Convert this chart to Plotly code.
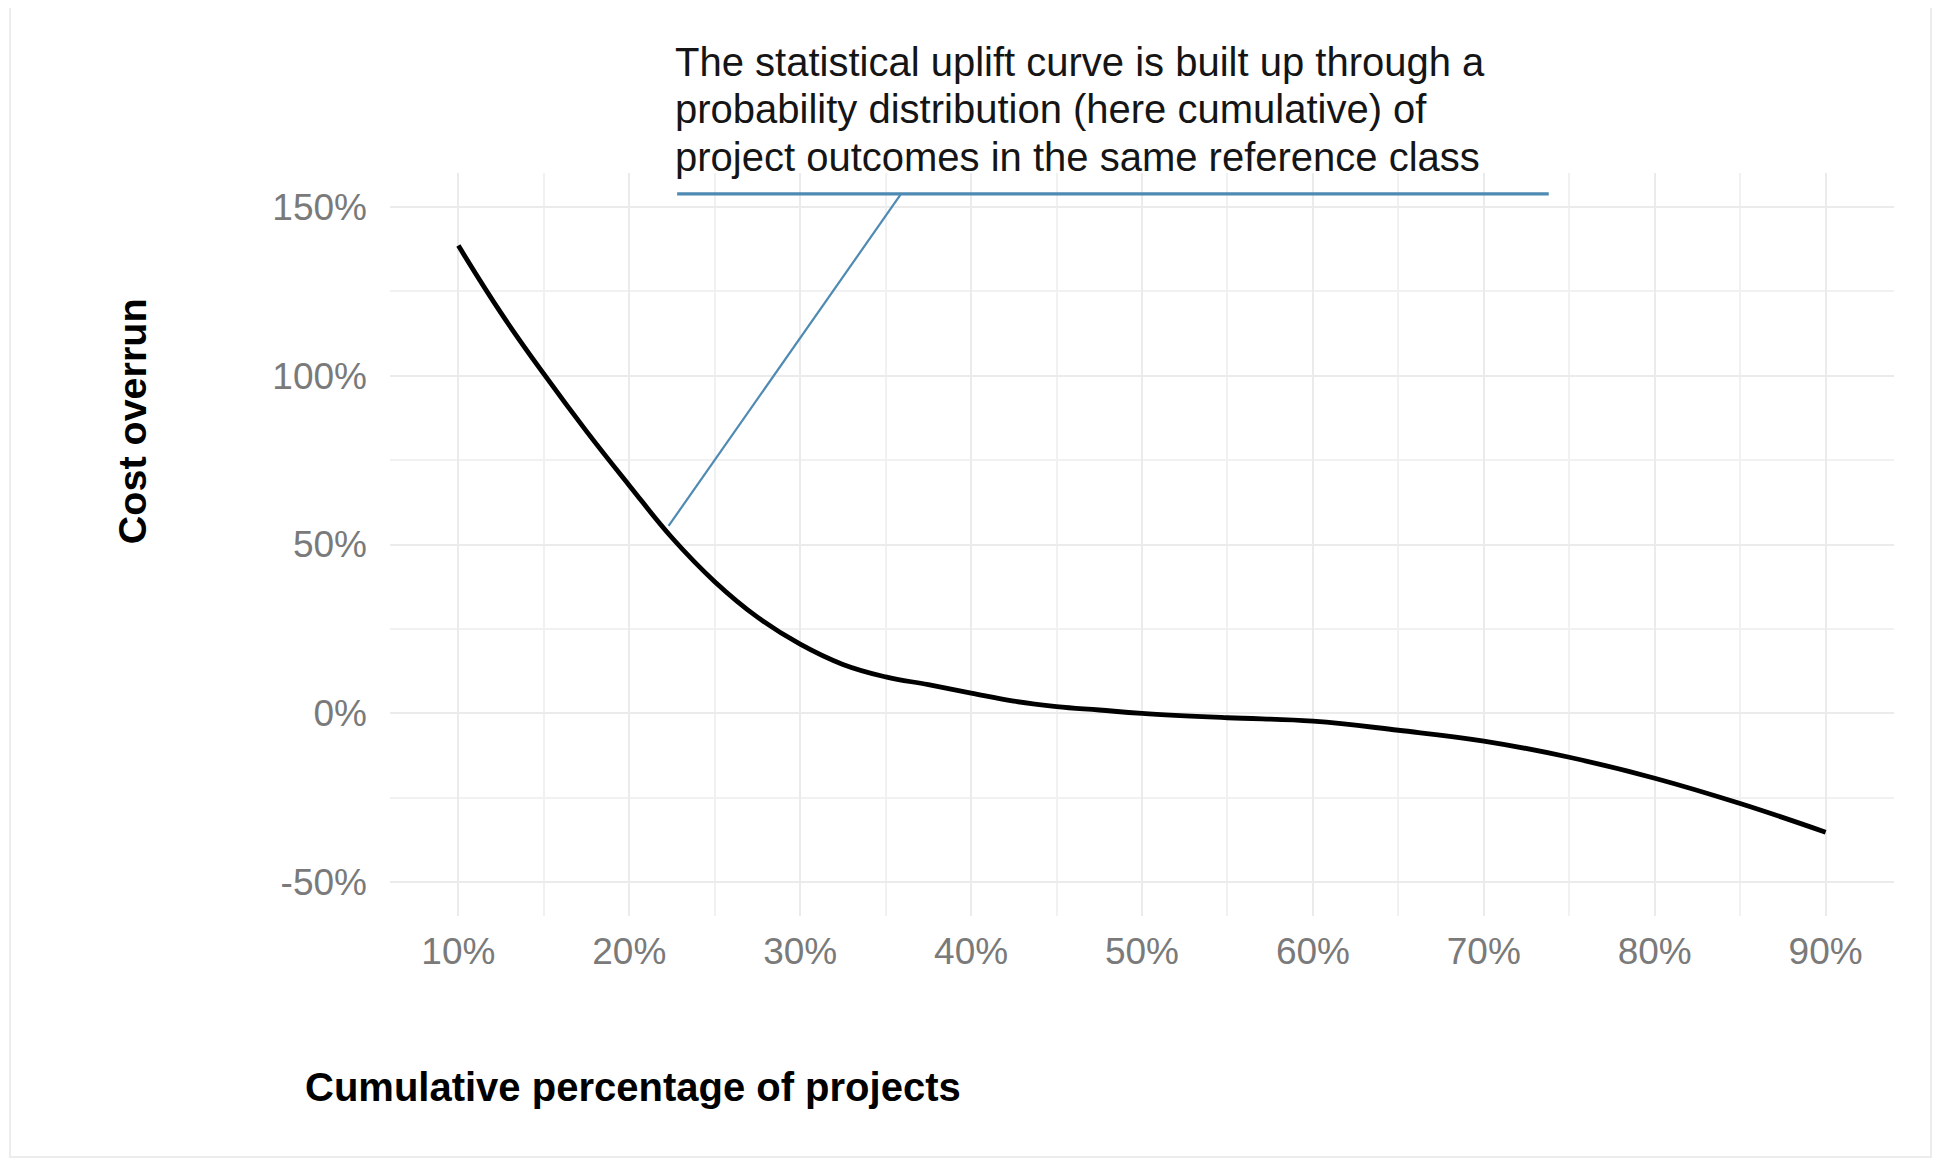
import plotly.graph_objects as go

# ---- data ----
cum_pct = [10, 12.5, 15, 17.5, 20, 22.5, 25, 27.5, 30, 32.5, 35, 37.5, 40,
           42.5, 45, 47.5, 50, 55, 60, 65, 70, 75, 80, 85, 90]
overrun = [138.5, 118.5, 100.5, 83.5, 67.5, 52, 39, 28.5, 20.5, 14.5, 10.8, 8.5, 6,
           3.6, 2, 1, 0, -1.3, -2.3, -5, -8.2, -13, -19.2, -26.7, -35.2]

x_ticks = [10, 20, 30, 40, 50, 60, 70, 80, 90]
x_tick_text = ["10%", "20%", "30%", "40%", "50%", "60%", "70%", "80%", "90%"]
y_ticks = [-50, 0, 50, 100, 150]
y_tick_text = ["-50%", "0%", "50%", "100%", "150%"]

note_lines = [
    "The statistical uplift curve is built up through a",
    "probability distribution (here cumulative) of",
    "project outcomes in the same reference class",
]

FONT = "Liberation Sans, Arial, sans-serif"
GRID = "#ebebeb"
TICK_COL = "#7a7a7a"
BLUE = "#4f8ab3"

fig = go.Figure()
fig.add_trace(go.Scatter(
    x=cum_pct, y=overrun, mode="lines",
    line=dict(color="black", width=4.8, shape="spline", smoothing=1.2),
    hoverinfo="skip", showlegend=False,
))

# annotation leader lines (data coordinates)
fig.add_shape(type="line", xref="x", yref="y", x0=22.8, x1=73.8, y0=153.8, y1=153.8,
              line=dict(color=BLUE, width=3.2))
fig.add_shape(type="line", xref="x", yref="y", x0=35.9, x1=22.3, y0=153.8, y1=55.5,
              line=dict(color=BLUE, width=2.2))

for yv, txt in zip([1.1494, 1.0861, 1.0215], note_lines):
    fig.add_annotation(x=22.58, y=yv, xref="x", yref="paper", text=txt, showarrow=False,
                       xanchor="left", yanchor="middle",
                       font=dict(family=FONT, size=40, color="#151515"))

# axis titles
fig.add_annotation(x=-0.1715, y=0.666, xref="paper", yref="paper", text="<b>Cost overrun</b>",
                   textangle=-90, showarrow=False, xanchor="center", yanchor="middle",
                   font=dict(family=FONT, size=39.5, color="black"))
fig.add_annotation(x=0.1616, y=-0.2301, xref="paper", yref="paper",
                   text="<b>Cumulative percentage of projects</b>",
                   showarrow=False, xanchor="center", yanchor="middle",
                   font=dict(family=FONT, size=40, color="black"))

# faint outer frame
fig.add_shape(type="rect", xref="paper", yref="paper",
              x0=(2 - 382) / 1504, x1=(1923 - 382) / 1504,
              y0=(908 - 1149) / 743, y1=(908 - (-1)) / 743,
              line=dict(color="#ececec", width=2), layer="below")

fig.update_xaxes(
    range=[6, 94], tickvals=x_ticks, ticktext=x_tick_text, showline=False, zeroline=False,
    showgrid=True, gridcolor=GRID, gridwidth=2, ticks="", ticklabelstandoff=10,
    tickfont=dict(family=FONT, size=37, color=TICK_COL),
    minor=dict(dtick=5, tick0=0, showgrid=True, gridcolor="#f1f1f1", gridwidth=1.5),
)
fig.update_yaxes(
    range=[-60, 160], tickvals=y_ticks, ticktext=y_tick_text, showline=False, zeroline=False,
    showgrid=True, gridcolor=GRID, gridwidth=2, ticks="", ticklabelstandoff=22,
    tickfont=dict(family=FONT, size=37, color=TICK_COL),
    minor=dict(dtick=25, tick0=0, showgrid=True, gridcolor="#f1f1f1", gridwidth=1.5),
)

fig.update_layout(
    width=1925, height=1152,
    margin=dict(l=382, r=39, t=165, b=244, pad=0),
    paper_bgcolor="white", plot_bgcolor="white",
    showlegend=False,
)

fig.write_html("out.html")
